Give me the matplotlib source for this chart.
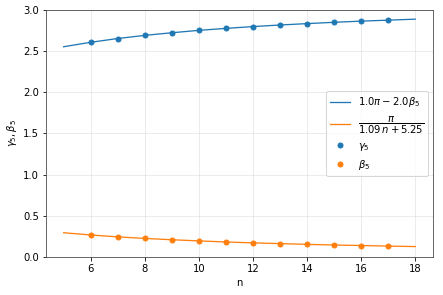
import numpy as np
import matplotlib.pyplot as plt

# values
n_line = [5, 6, 7, 8, 9, 10, 11, 12, 13, 14, 15, 16, 17, 18]
gamma_line = [2.554, 2.608, 2.654, 2.692, 2.724, 2.753, 2.777, 2.799,
              2.818, 2.835, 2.851, 2.865, 2.877, 2.889]
beta_line = [0.294, 0.267, 0.244, 0.225, 0.209, 0.195, 0.182, 0.171,
             0.162, 0.153, 0.145, 0.139, 0.132, 0.126]

n_pts = [6, 7, 8, 9, 10, 11, 12, 13, 14, 15, 16, 17]
gamma_pts = [2.608, 2.654, 2.692, 2.724, 2.753, 2.777, 2.799,
             2.818, 2.835, 2.851, 2.865, 2.877]
beta_pts = [0.267, 0.244, 0.225, 0.209, 0.195, 0.182, 0.171,
            0.162, 0.153, 0.145, 0.139, 0.132]

fig = plt.figure(figsize=(443/72, 295/72), dpi=72)
ax = fig.add_axes([0.104, 0.129, 0.873, 0.837])

ax.plot(n_line, gamma_line, color='#1f77b4', lw=1.3,
        label=r'$1.0\pi - 2.0\beta_5$')
ax.plot(n_line, beta_line, color='#ff7f0e', lw=1.3,
        label=r'$\dfrac{\pi}{1.09\,n + 5.25}$')
ax.plot(n_pts, gamma_pts, 'o', color='#1f77b4', ms=5, label=r'$\gamma_5$')
ax.plot(n_pts, beta_pts, 'o', color='#ff7f0e', ms=5, label=r'$\beta_5$')

ax.set_ylim(0, 3.0)
ax.set_xlabel('n', fontsize=10)
ax.set_ylabel(r'$\gamma_5, \beta_5$', fontsize=10)
ax.tick_params(labelsize=10)
ax.grid(alpha=0.3)
for s in ax.spines.values():
    s.set_color('#444444')
ax.legend(loc='center right', fontsize=10)

plt.savefig('out.png', dpi=72)
